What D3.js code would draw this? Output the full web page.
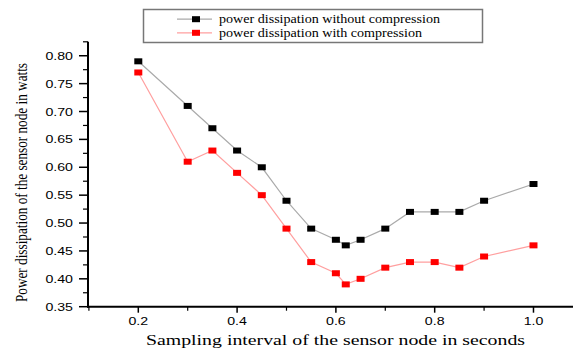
<!DOCTYPE html>
<html lang="en">
<head>
<meta charset="UTF-8">
<title>Power dissipation</title>
<style>
  body { margin: 0; background: #fff; }
  svg { display: block; }
</style>
</head>
<body>
<script src="https://d3js.org/d3.v7.min.js"></script>
<script>
  // Data
  const intervals = [0.2, 0.3, 0.35, 0.4, 0.45, 0.5, 0.55, 0.6, 0.62, 0.65, 0.7, 0.75, 0.8, 0.85, 0.9, 1.0];
  const withoutCompression = [0.79, 0.71, 0.67, 0.63, 0.60, 0.54, 0.49, 0.47, 0.46, 0.47, 0.49, 0.52, 0.52, 0.52, 0.54, 0.57];
  const withCompression = [0.77, 0.61, 0.63, 0.59, 0.55, 0.49, 0.43, 0.41, 0.39, 0.40, 0.42, 0.43, 0.43, 0.42, 0.44, 0.46];
  const xTicks = [0.2, 0.4, 0.6, 0.8, 1.0];
  const xMinorTicks = [0.1, 0.3, 0.5, 0.7, 0.9];
  const yTicks = [0.35, 0.40, 0.45, 0.50, 0.55, 0.60, 0.65, 0.70, 0.75, 0.80];
  const yMinorTicks = [0.375, 0.425, 0.475, 0.525, 0.575, 0.625, 0.675, 0.725, 0.775, 0.825];
  const seriesNames = ['power dissipation without compression', 'power dissipation with compression'];

  const W = 573, H = 348;
  const svg = d3.select('body').append('svg').attr('width', W).attr('height', H);

  const x = d3.scaleLinear().domain([0.1, 1.08]).range([88.9, 573]);
  const y = d3.scaleLinear().domain([0.35, 0.825]).range([306.7, 41.8]);

  const sans = 'Liberation Sans, Arial, sans-serif';
  const serif = 'Liberation Serif, Times New Roman, serif';

  // y axis
  const yAxis = svg.append('g').attr('transform', 'translate(88,0)');
  yAxis.append('line').attr('y1', y(0.825)).attr('y2', y(0.35) + 1)
    .attr('stroke', '#000').attr('stroke-width', 2);
  yAxis.selectAll('.maj').data(yTicks).enter().append('line')
    .attr('x1', -9).attr('x2', 0).attr('y1', d => y(d)).attr('y2', d => y(d))
    .attr('stroke', '#000').attr('stroke-width', 1.5);
  yAxis.selectAll('.min').data(yMinorTicks).enter().append('line')
    .attr('x1', -5).attr('x2', 0).attr('y1', d => y(d)).attr('y2', d => y(d))
    .attr('stroke', '#000').attr('stroke-width', 1.2);
  yAxis.selectAll('text').data(yTicks).enter().append('text')
    .attr('transform', d => `translate(-15,${y(d) + 4}) scale(1.35,1)`)
    .attr('text-anchor', 'end')
    .style('font', `10.5px ${sans}`)
    .text(d => d.toFixed(2));

  // x axis
  const xAxis = svg.append('g').attr('transform', 'translate(0,306.7)');
  xAxis.append('line').attr('x1', 87).attr('x2', W)
    .attr('stroke', '#000').attr('stroke-width', 2);
  xAxis.selectAll('.maj').data(xTicks).enter().append('line')
    .attr('x1', d => x(d)).attr('x2', d => x(d)).attr('y1', 0).attr('y2', 6)
    .attr('stroke', '#000').attr('stroke-width', 1.5);
  xAxis.selectAll('.min').data(xMinorTicks).enter().append('line')
    .attr('x1', d => x(d)).attr('x2', d => x(d)).attr('y1', 0).attr('y2', 4)
    .attr('stroke', '#000').attr('stroke-width', 1.2);
  xAxis.selectAll('text').data(xTicks).enter().append('text')
    .attr('transform', d => `translate(${x(d)},18) scale(1.35,1)`)
    .attr('text-anchor', 'middle')
    .style('font', `10.5px ${sans}`)
    .text(d => d.toFixed(1));

  // axis titles
  svg.append('text')
    .attr('x', 146).attr('y', 345)
    .attr('textLength', 379).attr('lengthAdjust', 'spacingAndGlyphs')
    .style('font', `15px ${serif}`)
    .text('Sampling interval of the sensor node in seconds');

  svg.append('text')
    .attr('transform', 'translate(27,302) rotate(-90)')
    .attr('textLength', 239).attr('lengthAdjust', 'spacingAndGlyphs')
    .style('font', `16px ${serif}`)
    .text('Power dissipation of the sensor node in watts');

  // series
  const series = [
    { values: withoutCompression, line: '#aaaaaa', fill: '#000000' },
    { values: withCompression, line: '#ff9f9f', fill: '#ff0000' }
  ];
  const lineGen = d3.line().x(d => x(d[0])).y(d => y(d[1]));

  series.forEach(s => {
    const pts = intervals.map((v, i) => [v, s.values[i]]);
    svg.append('path').datum(pts)
      .attr('d', lineGen).attr('fill', 'none')
      .attr('stroke', s.line).attr('stroke-width', 1.2);
    svg.selectAll(null).data(pts).enter().append('rect')
      .attr('x', d => x(d[0]) - 4).attr('y', d => y(d[1]) - 3)
      .attr('width', 8).attr('height', 6)
      .attr('fill', s.fill);
  });

  // legend
  const legend = svg.append('g');
  legend.append('rect')
    .attr('x', 143.5).attr('y', 9.5).attr('width', 339).attr('height', 33)
    .attr('fill', '#fff').attr('stroke', '#777').attr('stroke-width', 1.5);
  const legendWidths = [221, 203];
  seriesNames.forEach((name, i) => {
    const ly = 19.2 + i * 13.6;
    legend.append('line').attr('x1', 177).attr('x2', 212).attr('y1', ly).attr('y2', ly)
      .attr('stroke', series[i].line).attr('stroke-width', 1.2);
    legend.append('rect').attr('x', 192).attr('y', ly - 3).attr('width', 8).attr('height', 6)
      .attr('fill', series[i].fill);
    legend.append('text').attr('x', 219).attr('y', ly + 3.8)
      .attr('textLength', legendWidths[i]).attr('lengthAdjust', 'spacingAndGlyphs')
      .style('font', `12px ${serif}`)
      .text(name);
  });
</script>
</body>
</html>
